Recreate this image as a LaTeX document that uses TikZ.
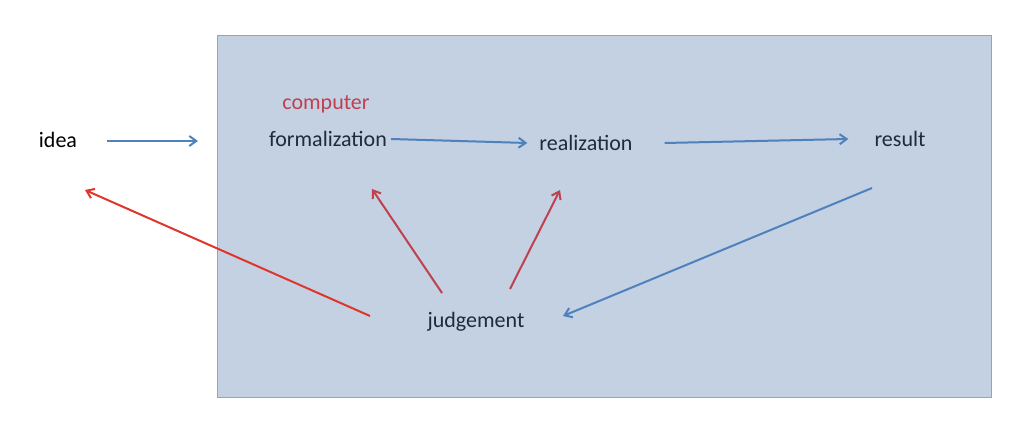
\documentclass[tikz,border=0pt]{standalone}
\usepackage{fontspec}
\setmainfont{Carlito}
\usetikzlibrary{arrows.meta}
\definecolor{boxfill}{HTML}{C3D1E3}
\definecolor{boxline}{HTML}{8AA6CC}
\definecolor{blu}{HTML}{4F81BD}
\definecolor{rd}{HTML}{C0404E}
\definecolor{rdb}{HTML}{E0352B}
\definecolor{txt}{HTML}{1F2A3A}
\begin{document}
\begin{tikzpicture}[x=1pt,y=-1pt,
  lbl/.style={font=\fontsize{22}{24}\selectfont,text=txt,inner sep=0},
  barrow/.style={draw=blu,line width=2pt,-{Straight Barb[length=7pt,width=10pt]}},
  rarrow/.style={draw=rd,line width=2pt,-{Straight Barb[length=7pt,width=10pt]}}]
\useasboundingbox (0,0) rectangle (1024,427);
\node[draw=boxline,fill=boxfill,line width=1pt,minimum width=774pt,minimum height=362pt,inner sep=0,anchor=north west] (box) at (217,35) {};
\node[lbl,text=black] (idea) at (58,140) {idea};
\node[lbl,text=rd] (comp) at (326,104) {computer};
\node[lbl] (form) at (328,139) {formalization};
\node[lbl] (real) at (586,143) {realization};
\node[lbl] (res) at (900,139) {result};
\node[lbl] (judg) at (476,322) {judgement};
\coordinate (i1) at (107,141); \coordinate (i2) at (198,141);
\draw[barrow] (i1) -- (i2);
\draw[barrow] ([xshift=4pt]form.east) -- ([xshift=-12pt]real.west);
\draw[barrow] ([xshift=32pt]real.east) -- ([xshift=-26pt]res.west);
\coordinate (r1) at (872,188); \coordinate (j1) at (563,316);
\draw[barrow] (r1) -- (j1);
\coordinate (j2) at (370,316); \coordinate (i3) at (85,190);
\draw[rarrow,draw=rdb] (j2) -- (i3);
\coordinate (j3) at (442,293); \coordinate (f1) at (372,189);
\draw[rarrow] (j3) -- (f1);
\coordinate (j4) at (510,289); \coordinate (re1) at (560,190);
\draw[rarrow] (j4) -- (re1);
\end{tikzpicture}
\end{document}
